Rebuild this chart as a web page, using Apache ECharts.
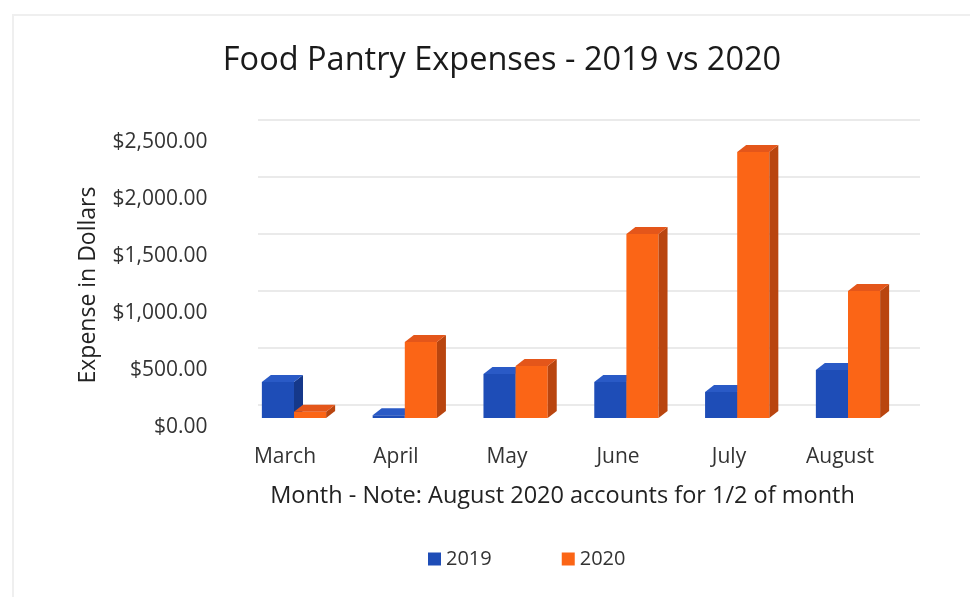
<!DOCTYPE html>
<html>
<head>
<meta charset="utf-8">
<script src="https://cdn.jsdelivr.net/npm/echarts@6/dist/echarts.min.js"></script>
<style>html,body{margin:0;padding:0;background:#fff}#c{width:970px;height:597px}</style>
</head>
<body>
<div id="c"></div>
<script>
const months = ['March', 'April', 'May', 'June', 'July', 'August'];
const exp2019 = [316, 25, 386, 316, 228, 421];
const exp2020 = [55, 667, 456, 1614, 2333, 1114];
const yTicks = [0, 500, 1000, 1500, 2000, 2500];
const seriesNames = ['2019', '2020'];

const FONT = 'Open Sans';
const faces = [
  { front: '#1e4db7', side: '#15388a', top: '#2a5ac6' },
  { front: '#fb6516', side: '#b9450f', top: '#e4561a' }
];

function fmt(v) {
  return '$' + v.toFixed(2).replace(/\B(?=(\d{3})+(?!\d))/g, ',');
}

function renderItem(params, api) {
  const cat = api.value(0), val = api.value(1);
  const s = params.seriesIndex;
  const base = api.coord([cat, 0]);
  const top = api.coord([cat, val]);
  const bw = api.size([1, 0])[0] * 0.29;
  const dx = 9, dy = 7;
  const x0 = base[0] + (s - 1) * bw;
  const x1 = x0 + bw;
  const by = base[1], ty = top[1];
  const f = faces[s];
  return {
    type: 'group',
    children: [
      { type: 'rect', shape: { x: x0, y: ty, width: bw, height: by - ty }, style: { fill: f.front } },
      { type: 'polygon', shape: { points: [[x1, ty], [x1 + dx, ty - dy], [x1 + dx, by - dy], [x1, by]] }, style: { fill: f.side } },
      { type: 'polygon', shape: { points: [[x0, ty], [x0 + dx, ty - dy], [x1 + dx, ty - dy], [x1, ty]] }, style: { fill: f.top } }
    ]
  };
}

const chart = echarts.init(document.getElementById('c'), null, { renderer: 'canvas' });
chart.setOption({
  backgroundColor: '#fff',
  animation: false,
  title: {
    text: 'Food Pantry Expenses - 2019 vs 2020',
    left: 497, top: 39, textAlign: 'center',
    textStyle: { fontFamily: FONT, fontSize: 32.5, fontWeight: 'normal', color: '#1a1a1a' }
  },
  legend: {
    data: seriesNames,
    left: 423, top: 544,
    icon: 'rect', itemWidth: 13, itemHeight: 13, itemGap: 70,
    textStyle: { fontFamily: FONT, fontSize: 20, color: '#333' }
  },
  graphic: [
    { type: 'polyline', shape: { points: [[13, 597], [13, 15], [970, 15]] }, style: { stroke: '#efefef', lineWidth: 2, fill: null }, silent: true }
  ],
  grid: [
    { left: 238.6, right: 66.6, top: 133, bottom: 179 },
    { left: 258, right: 50, top: 120, bottom: 192 },
    { left: 229.5, right: 74.5, top: 142.5, bottom: 169.5 }
  ],
  xAxis: [
    { gridIndex: 0, type: 'category', data: months, show: false },
    { gridIndex: 1, type: 'category', data: months, show: false },
    {
      gridIndex: 2, type: 'category', data: months,
      axisLine: { show: false }, axisTick: { show: false },
      axisLabel: { fontFamily: FONT, fontSize: 21, color: '#333', margin: 19 },
      name: 'Month - Note: August 2020 accounts for 1/2 of month',
      nameLocation: 'middle', nameGap: 57,
      nameTextStyle: { fontFamily: FONT, fontSize: 23.5, color: '#222' }
    }
  ],
  yAxis: [
    { gridIndex: 0, type: 'value', min: 0, max: 2500, show: false },
    {
      gridIndex: 1, type: 'value', min: 0, max: 2500, interval: 500,
      axisLine: { show: false }, axisTick: { show: false }, axisLabel: { show: false },
      splitLine: { show: true, lineStyle: { color: '#e3e3e3', width: 1.5 } }
    },
    {
      gridIndex: 2, type: 'value', min: 0, max: 2500, interval: 500,
      axisLine: { show: false }, axisTick: { show: false }, splitLine: { show: false },
      axisLabel: { fontFamily: FONT, fontSize: 21, color: '#333', margin: 22, formatter: fmt },
      name: 'Expense in Dollars', nameLocation: 'middle', nameGap: 130,
      nameTextStyle: { fontFamily: FONT, fontSize: 23, color: '#222' }
    }
  ],
  series: [
    {
      name: seriesNames[0], type: 'custom', xAxisIndex: 0, yAxisIndex: 0,
      itemStyle: { color: faces[0].front }, renderItem: renderItem,
      data: exp2019.map((v, i) => [i, v])
    },
    {
      name: seriesNames[1], type: 'custom', xAxisIndex: 0, yAxisIndex: 0,
      itemStyle: { color: faces[1].front }, renderItem: renderItem,
      data: exp2020.map((v, i) => [i, v])
    }
  ]
});
</script>
</body>
</html>
